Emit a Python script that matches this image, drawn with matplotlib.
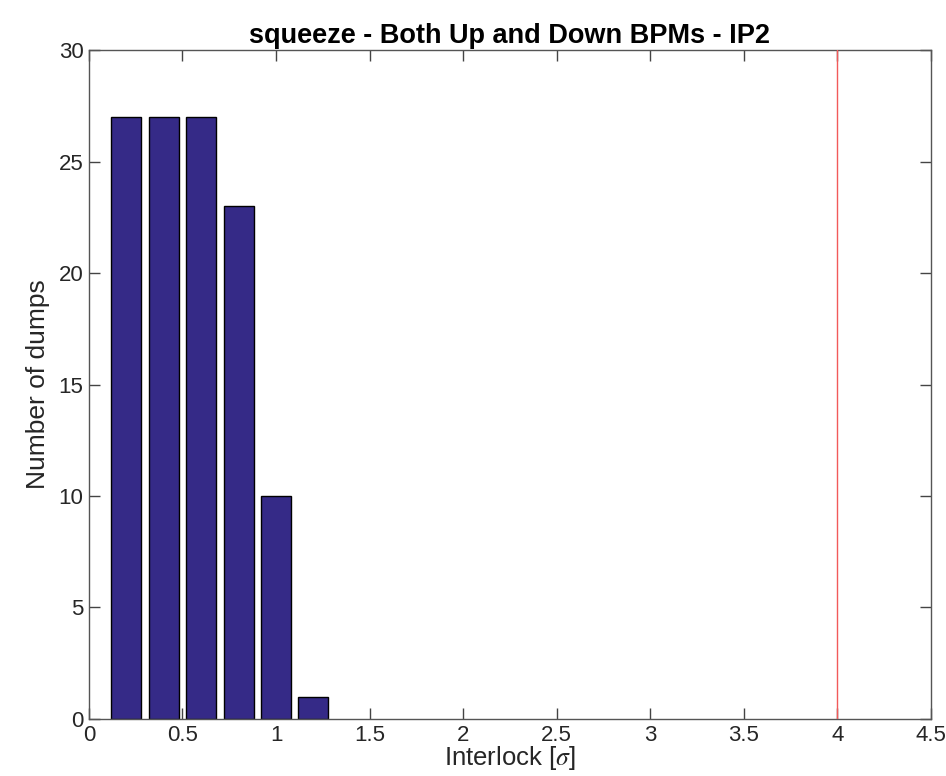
import numpy as np
import matplotlib.pyplot as plt

# histogram data
binCenters = [0.2, 0.4, 0.6, 0.8, 1.0, 1.2]
dumpCounts = [27, 27, 27, 23, 10, 1]
interlockLimit = 4.0


def main():
    plt.rcParams['font.family'] = ['Liberation Sans', 'DejaVu Sans']
    plt.rcParams['mathtext.fontset'] = 'stix'
    fig = plt.figure(figsize=(9.46, 7.76), dpi=100)
    ax = fig.add_axes([0.094, 0.0735, 0.89, 0.862])

    ax.bar(binCenters, dumpCounts, width=0.16, color='#352a87',
           edgecolor='black', linewidth=1.0, zorder=2)
    ax.axvline(interlockLimit, color='#f25a5a', linewidth=1.0, zorder=3)

    ax.set_xlim(0, 4.5)
    ax.set_ylim(0, 30)
    ax.set_xticks(np.arange(0, 4.51, 0.5))
    ax.set_xticklabels(['0', '0.5', '1', '1.5', '2', '2.5', '3', '3.5', '4', '4.5'])
    ax.set_yticks(np.arange(0, 31, 5))

    grey = '#262626'
    for s in ax.spines.values():
        s.set_color('#555555')
        s.set_linewidth(1.0)
    ax.tick_params(direction='in', length=8, width=1.0, colors='#444444',
                   labelcolor=grey, labelsize=16, top=True, right=True, pad=4)

    ax.set_title('squeeze - Both Up and Down BPMs - IP2', fontsize=19.5,
                 fontweight='bold', color='black', pad=5)
    ax.set_xlabel(r'Interlock [$\sigma$]', fontsize=18.5, color=grey, labelpad=-1)
    ax.set_ylabel('Number of dumps', fontsize=19, color=grey, labelpad=6)

    fig.savefig('out.png', dpi=100)


if __name__ == "__main__":
    main()
